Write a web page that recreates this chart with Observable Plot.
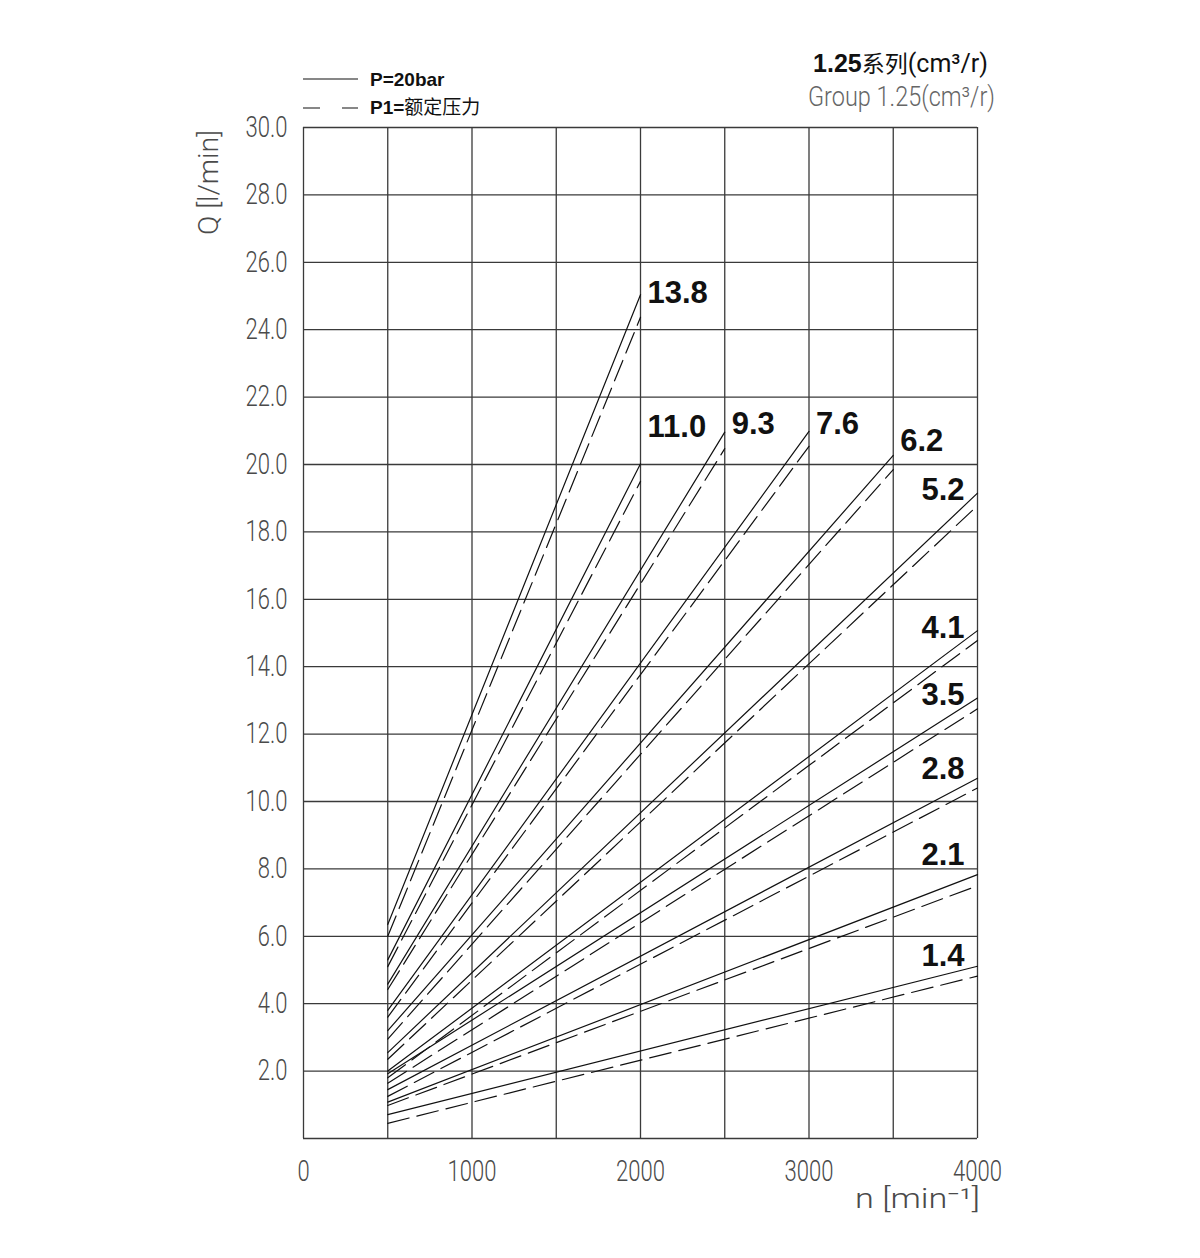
<!DOCTYPE html>
<html><head><meta charset="utf-8">
<script src="https://cdn.jsdelivr.net/npm/d3@7"></script>
<script src="https://cdn.jsdelivr.net/npm/@observablehq/plot@0.6"></script>
<style>body{margin:0;background:#fff} #chart svg{display:block}</style>
</head><body><div id="chart"></div>
<script>
// Data
const displacements = [13.8, 11.0, 9.3, 7.6, 6.2, 5.2, 4.1, 3.5, 2.8, 2.1, 1.4];
const startSpeed = 500;
const endSpeed = [2000, 2000, 2500, 3000, 3500, 4000, 4000, 4000, 4000, 4000, 4000];
const solidStartQ = [6.35, 5.3, 4.58, 3.8, 3.2, 2.55, 2.0, 1.92, 1.45, 1.08, 0.71];
const solidEndQ = [25.04, 20.02, 20.96, 20.98, 20.27, 19.15, 15.07, 13.07, 10.69, 7.83, 5.11];
const dashedStartQ = [6.0, 5.1, 4.42, 3.6, 2.95, 2.35, 1.8, 1.64, 1.25, 0.98, 0.45];
const dashedEndQ = [24.37, 19.5, 20.47, 20.54, 19.85, 18.78, 14.78, 12.75, 10.4, 7.5, 4.82];
const labelN = [2000, 2000, 2500, 3000, 3500, 4000, 4000, 4000, 4000, 4000, 4000];
const labelQ = [25.1, 21.1, 21.2, 21.2, 20.7, 19.25, 15.15, 13.15, 10.95, 8.4, 5.4];
const labelSide = ["start", "start", "start", "start", "start", "end", "end", "end", "end", "end", "end"];
const xTicks = [0, 1000, 2000, 3000, 4000];
const yTicks = [2, 4, 6, 8, 10, 12, 14, 16, 18, 20, 22, 24, 26, 28, 30];
const xGrid = [0, 500, 1000, 1500, 2000, 2500, 3000, 3500, 4000];
const yGrid = [0, 2, 4, 6, 8, 10, 12, 14, 16, 18, 20, 22, 24, 26, 28, 30];

const thin = "Roboto, 'DejaVu Sans', sans-serif";
const bold = "'Liberation Sans', Arial, sans-serif";

const solidRows = [], dashedRows = [], labelRows = [];
displacements.forEach((v, i) => {
  solidRows.push({v, n: startSpeed, q: solidStartQ[i]}, {v, n: endSpeed[i], q: solidEndQ[i]});
  dashedRows.push({v, n: startSpeed, q: dashedStartQ[i]}, {v, n: endSpeed[i], q: dashedEndQ[i]});
  labelRows.push({text: v.toFixed(1), n: labelN[i], q: labelQ[i], side: labelSide[i]});
});

const chart = Plot.plot({
  width: 1200, height: 1258,
  marginLeft: 303, marginRight: 223, marginTop: 127, marginBottom: 120,
  x: {domain: [0, 4000]},
  y: {domain: [0, 30]},
  style: {background: "white", fontFamily: thin},
  marks: [
    Plot.ruleX(xGrid, {stroke: "#3a3a3a", strokeWidth: 1.3}),
    Plot.ruleY(yGrid, {stroke: "#3a3a3a", strokeWidth: 1.3}),
    Plot.line(solidRows, {x: "n", y: "q", z: "v", stroke: "#111", strokeWidth: 1.2}),
    Plot.line(dashedRows, {x: "n", y: "q", z: "v", stroke: "#111", strokeWidth: 1.2, strokeDasharray: "22,8"}),
    Plot.text(labelRows.filter(d => d.side === "start"), {x: "n", y: "q", text: "text", textAnchor: "start", dx: 7,
      fontSize: 31, fontWeight: "bold", fontFamily: bold, fill: "#111"}),
    Plot.text(labelRows.filter(d => d.side === "end"), {x: "n", y: "q", text: "text", textAnchor: "end", dx: -13,
      fontSize: 31, fontWeight: "bold", fontFamily: bold, fill: "#111"}),
    Plot.axisX(xTicks, {tickSize: 0, tickPadding: 22, fontSize: 29, fontWeight: 300, fill: "#4a4a4a", label: null,
      fontFamily: thin, tickFormat: d => String(d)}),
    Plot.axisY(yTicks, {tickSize: 0, tickPadding: 16, fontSize: 29, fontWeight: 300, fill: "#4a4a4a", label: null,
      fontFamily: thin, tickFormat: d => d.toFixed(1)})
  ]
});
document.getElementById("chart").appendChild(chart);

// make tick labels narrow (condensed drafting look) without moving them
d3.select(chart).selectAll("g[aria-label$='tick label'] text").each(function() {
  const w = this.getComputedTextLength();
  if (w > 0) {
    this.setAttribute("textLength", (w * 0.76).toFixed(1));
    this.setAttribute("lengthAdjust", "spacingAndGlyphs");
  }
});

const svg = d3.select(chart);
// Axis titles
svg.append("text").attr("transform", "translate(218,130) rotate(-90)")
  .attr("text-anchor", "end").attr("font-family", thin).attr("font-weight", 300).attr("font-size", 27).attr("fill", "#4a4a4a")
  .attr("textLength", 105).attr("lengthAdjust", "spacingAndGlyphs")
  .text("Q [l/min]");
svg.append("text").attr("x", 980).attr("y", 1208).attr("text-anchor", "end")
  .attr("font-family", thin).attr("font-weight", 300).attr("font-size", 28).attr("fill", "#4a4a4a")
  .attr("textLength", 125).attr("lengthAdjust", "spacingAndGlyphs")
  .text("n [min⁻¹]");

// Title (top right)
const t1 = svg.append("text").attr("x", 988).attr("y", 72).attr("text-anchor", "end").attr("fill", "#111");
t1.append("tspan").attr("font-family", bold).attr("font-weight", "bold").attr("font-size", 25).text("1.25");
t1.append("tspan").attr("font-family", "'Noto Sans CJK SC', sans-serif").attr("font-size", 23).text("系列");
t1.append("tspan").attr("font-family", thin).attr("font-size", 25).text("(cm³/r)");
svg.append("text").attr("x", 995).attr("y", 106).attr("text-anchor", "end").attr("fill", "#666")
  .attr("font-family", thin).attr("font-weight", 300).attr("font-size", 27)
  .attr("textLength", 187).attr("lengthAdjust", "spacingAndGlyphs")
  .text("Group 1.25(cm³/r)");

// Legend (top left)
svg.append("line").attr("x1", 303).attr("x2", 358).attr("y1", 79).attr("y2", 79).attr("stroke", "#111").attr("stroke-width", 1.2);
svg.append("line").attr("x1", 303).attr("x2", 358).attr("y1", 108).attr("y2", 108).attr("stroke", "#111").attr("stroke-width", 1.2)
  .attr("stroke-dasharray", "17,22");
svg.append("text").attr("x", 370).attr("y", 86).attr("text-anchor", "start").attr("font-family", bold)
  .attr("font-weight", "bold").attr("font-size", 19).attr("fill", "#111").text("P=20bar");
const l2 = svg.append("text").attr("x", 370).attr("y", 114).attr("text-anchor", "start").attr("fill", "#111").attr("font-size", 19);
l2.append("tspan").attr("font-family", bold).attr("font-weight", "bold").text("P1=");
l2.append("tspan").attr("font-family", "'Noto Sans CJK SC', sans-serif").text("额定压力");
</script>
</body></html>
